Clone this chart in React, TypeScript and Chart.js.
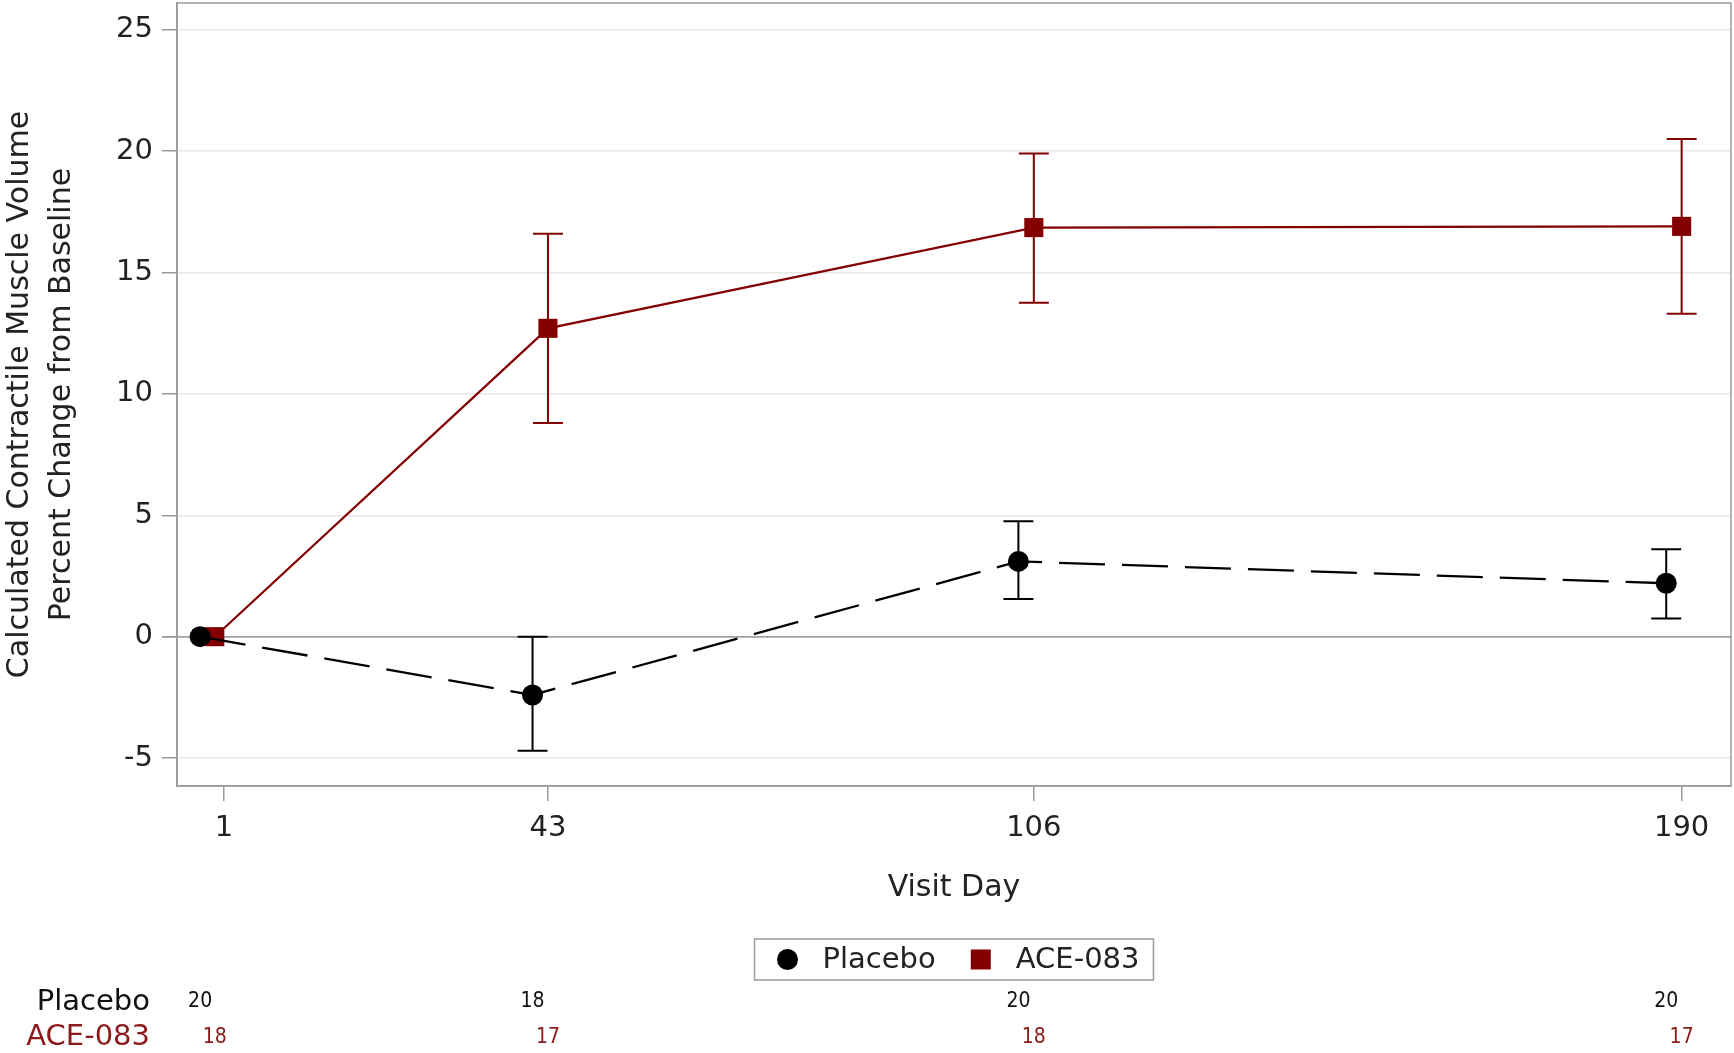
import React, { useEffect, useRef } from 'react';
import { Chart, registerables } from 'chart.js';

Chart.register(...registerables);

// ---- Data ----
const visitDays = [1, 43, 106, 190];
// plotted x-positions (groups are slightly offset around each visit day)
const placeboX = [-2.1, 41, 104, 188];
const aceX = [-0.2, 43, 106, 190];

const placeboMean = [0, -2.4, 3.1, 2.2];
const placeboLower = [0, -4.7, 1.55, 0.75];
const placeboUpper = [0, 0, 4.75, 3.6];

const aceMean = [0, 12.7, 16.85, 16.9];
const aceLower = [0, 8.8, 13.75, 13.3];
const aceUpper = [0, 16.6, 19.9, 20.5];

const placeboN = [20, 18, 20, 20];
const aceN = [18, 17, 18, 17];

const yTicks = [-5, 0, 5, 10, 15, 20, 25];

const seriesNames = ['Placebo', 'ACE-083'];
const yTitle = ['Calculated Contractile Muscle Volume', 'Percent Change from Baseline'];
const xTitle = 'Visit Day';

const FONT = "'DejaVu Sans', 'Liberation Sans', sans-serif";
const NARROW = "'DejaVu Sans Condensed', 'Liberation Sans Narrow', 'Liberation Sans', sans-serif";
const TEXT = '#222222';
const RED = '#840000';
const RED_TEXT = '#8b1a1a';

const errorSets = [
  { xs: placeboX, lo: placeboLower, hi: placeboUpper, color: '#000000' },
  { xs: aceX, lo: aceLower, hi: aceUpper, color: RED },
];

const customPlugin = {
  id: 'customDraw',
  beforeDatasetsDraw(chart: any) {
    const ctx = chart.ctx;
    const xs = chart.scales.x;
    const ys = chart.scales.y;
    ctx.save();
    errorSets.forEach((s) => {
      ctx.strokeStyle = s.color;
      ctx.lineWidth = 2;
      s.xs.forEach((xv, i) => {
        if (s.hi[i] <= s.lo[i]) return;
        const x = xs.getPixelForValue(xv);
        const yl = ys.getPixelForValue(s.lo[i]);
        const yh = ys.getPixelForValue(s.hi[i]);
        ctx.beginPath();
        ctx.moveTo(x, yl);
        ctx.lineTo(x, yh);
        ctx.moveTo(x - 15, yl);
        ctx.lineTo(x + 15, yl);
        ctx.moveTo(x - 15, yh);
        ctx.lineTo(x + 15, yh);
        ctx.stroke();
      });
    });
    ctx.restore();
  },
  afterDraw(chart: any) {
    const ctx = chart.ctx;
    const a = chart.chartArea;
    const xs = chart.scales.x;
    ctx.save();
    // frame
    ctx.strokeStyle = '#9a9a9a';
    ctx.lineWidth = 1.5;
    ctx.strokeRect(a.left, a.top, a.right - a.left, a.bottom - a.top);

    // y title
    const cy = (a.top + a.bottom) / 2;
    ctx.fillStyle = TEXT;
    ctx.font = `30px ${FONT}`;
    ctx.textAlign = 'center';
    ctx.textBaseline = 'middle';
    [20, 62].forEach((x, i) => {
      ctx.save();
      ctx.translate(x, cy);
      ctx.rotate(-Math.PI / 2);
      ctx.fillText(yTitle[i], 0, 0);
      ctx.restore();
    });

    // x title
    const cx = (a.left + a.right) / 2;
    ctx.font = `30px ${FONT}`;
    ctx.fillText(xTitle, cx, 888);

    // legend
    ctx.font = `29px ${FONT}`;
    const w1 = ctx.measureText(seriesNames[0]).width;
    const w2 = ctx.measureText(seriesNames[1]).width;
    const padL = 23, mk = 20, gapT = 25, gapItem = 35, padR = 14;
    const boxW = padL + mk + gapT + w1 + gapItem + mk + gapT + w2 + padR;
    const boxH = 41;
    const bx = cx - boxW / 2;
    const by = 939;
    ctx.strokeStyle = '#9a9a9a';
    ctx.lineWidth = 1.5;
    ctx.strokeRect(bx, by, boxW, boxH);
    const my = by + boxH / 2;
    let px = bx + padL;
    ctx.fillStyle = '#000';
    ctx.beginPath();
    ctx.arc(px + mk / 2, my, 10.5, 0, Math.PI * 2);
    ctx.fill();
    px += mk + gapT;
    ctx.fillStyle = TEXT;
    ctx.textAlign = 'left';
    ctx.fillText(seriesNames[0], px, my + 1);
    px += w1 + gapItem;
    ctx.fillStyle = RED;
    ctx.fillRect(px, my - 10, 20, 20);
    px += mk + gapT;
    ctx.fillStyle = TEXT;
    ctx.fillText(seriesNames[1], px, my + 1);

    // at-risk table
    ctx.textAlign = 'right';
    ctx.fillStyle = '#111';
    ctx.fillText(seriesNames[0], 150, 1002);
    ctx.fillStyle = RED_TEXT;
    ctx.fillText(seriesNames[1], 150, 1037);
    ctx.textAlign = 'center';
    ctx.font = `21px ${NARROW}`;
    ctx.fillStyle = '#111';
    placeboN.forEach((n, i) => ctx.fillText(String(n), xs.getPixelForValue(placeboX[i]), 1002));
    ctx.fillStyle = RED_TEXT;
    aceN.forEach((n, i) => ctx.fillText(String(n), xs.getPixelForValue(aceX[i]), 1038));
    ctx.restore();
  },
};

export default function App() {
  const ref = useRef<HTMLCanvasElement | null>(null);
  useEffect(() => {
    document.body.style.margin = '0';
    const canvas = ref.current;
    if (!canvas) return;
    const chart = new Chart(canvas, {
      type: 'line',
      data: {
        datasets: [
          {
            label: seriesNames[0],
            data: placeboX.map((x, i) => ({ x, y: placeboMean[i] })),
            borderColor: '#000000',
            backgroundColor: '#000000',
            borderWidth: 2.3,
            borderDash: [46, 17],
            pointStyle: 'circle',
            pointRadius: 10.5,
            pointBorderWidth: 0,
            tension: 0,
          },
          {
            label: seriesNames[1],
            data: aceX.map((x, i) => ({ x, y: aceMean[i] })),
            borderColor: RED,
            backgroundColor: RED,
            borderWidth: 2.2,
            pointStyle: 'rect',
            pointRadius: 13.5,
            pointBorderWidth: 0,
            tension: 0,
          },
        ],
      },
      options: {
        animation: false,
        responsive: false,
        events: [],
        layout: { autoPadding: false, padding: { left: 0, top: 3, right: 3, bottom: 0 } },
        plugins: { legend: { display: false }, tooltip: { enabled: false } },
        scales: {
          x: {
            type: 'linear',
            min: -5.1,
            max: 196.4,
            afterBuildTicks: (s: any) => {
              s.ticks = visitDays.map((v) => ({ value: v }));
            },
            afterFit: (s: any) => {
              s.height = 267;
              s.paddingLeft = 0;
              s.paddingRight = 0;
            },
            ticks: {
              autoSkip: false,
              maxRotation: 0,
              padding: 10,
              color: TEXT,
              font: { family: FONT, size: 29 },
              callback: (v: any) => String(v),
            },
            grid: { drawOnChartArea: false, tickLength: 15, tickColor: '#9a9a9a', lineWidth: 1.5 },
            border: { color: '#9a9a9a', width: 1.5 },
          },
          y: {
            type: 'linear',
            min: -6.15,
            max: 26.1,
            afterBuildTicks: (s: any) => {
              s.ticks = yTicks.map((v) => ({ value: v }));
            },
            afterFit: (s: any) => {
              s.width = 177;
              s.paddingTop = 0;
              s.paddingBottom = 0;
            },
            ticks: {
              autoSkip: false,
              padding: 9,
              color: TEXT,
              font: { family: FONT, size: 29 },
              callback: (v: any) => String(v),
            },
            grid: {
              tickLength: 15,
              tickColor: '#9a9a9a',
              color: (c: any) => (c.tick && c.tick.value === 0 ? '#a0a0a0' : '#e8e8e8'),
              lineWidth: (c: any) => (c.tick && c.tick.value === 0 ? 1.8 : 1.5),
            },
            border: { color: '#9a9a9a', width: 1.5 },
          },
        },
      },
      plugins: [customPlugin],
    } as any);
    return () => chart.destroy();
  }, []);
  return (
    <div style={{ width: 1734, height: 1053 }}>
      <canvas ref={ref} width={1734} height={1053} style={{ display: 'block' }} />
    </div>
  );
}
